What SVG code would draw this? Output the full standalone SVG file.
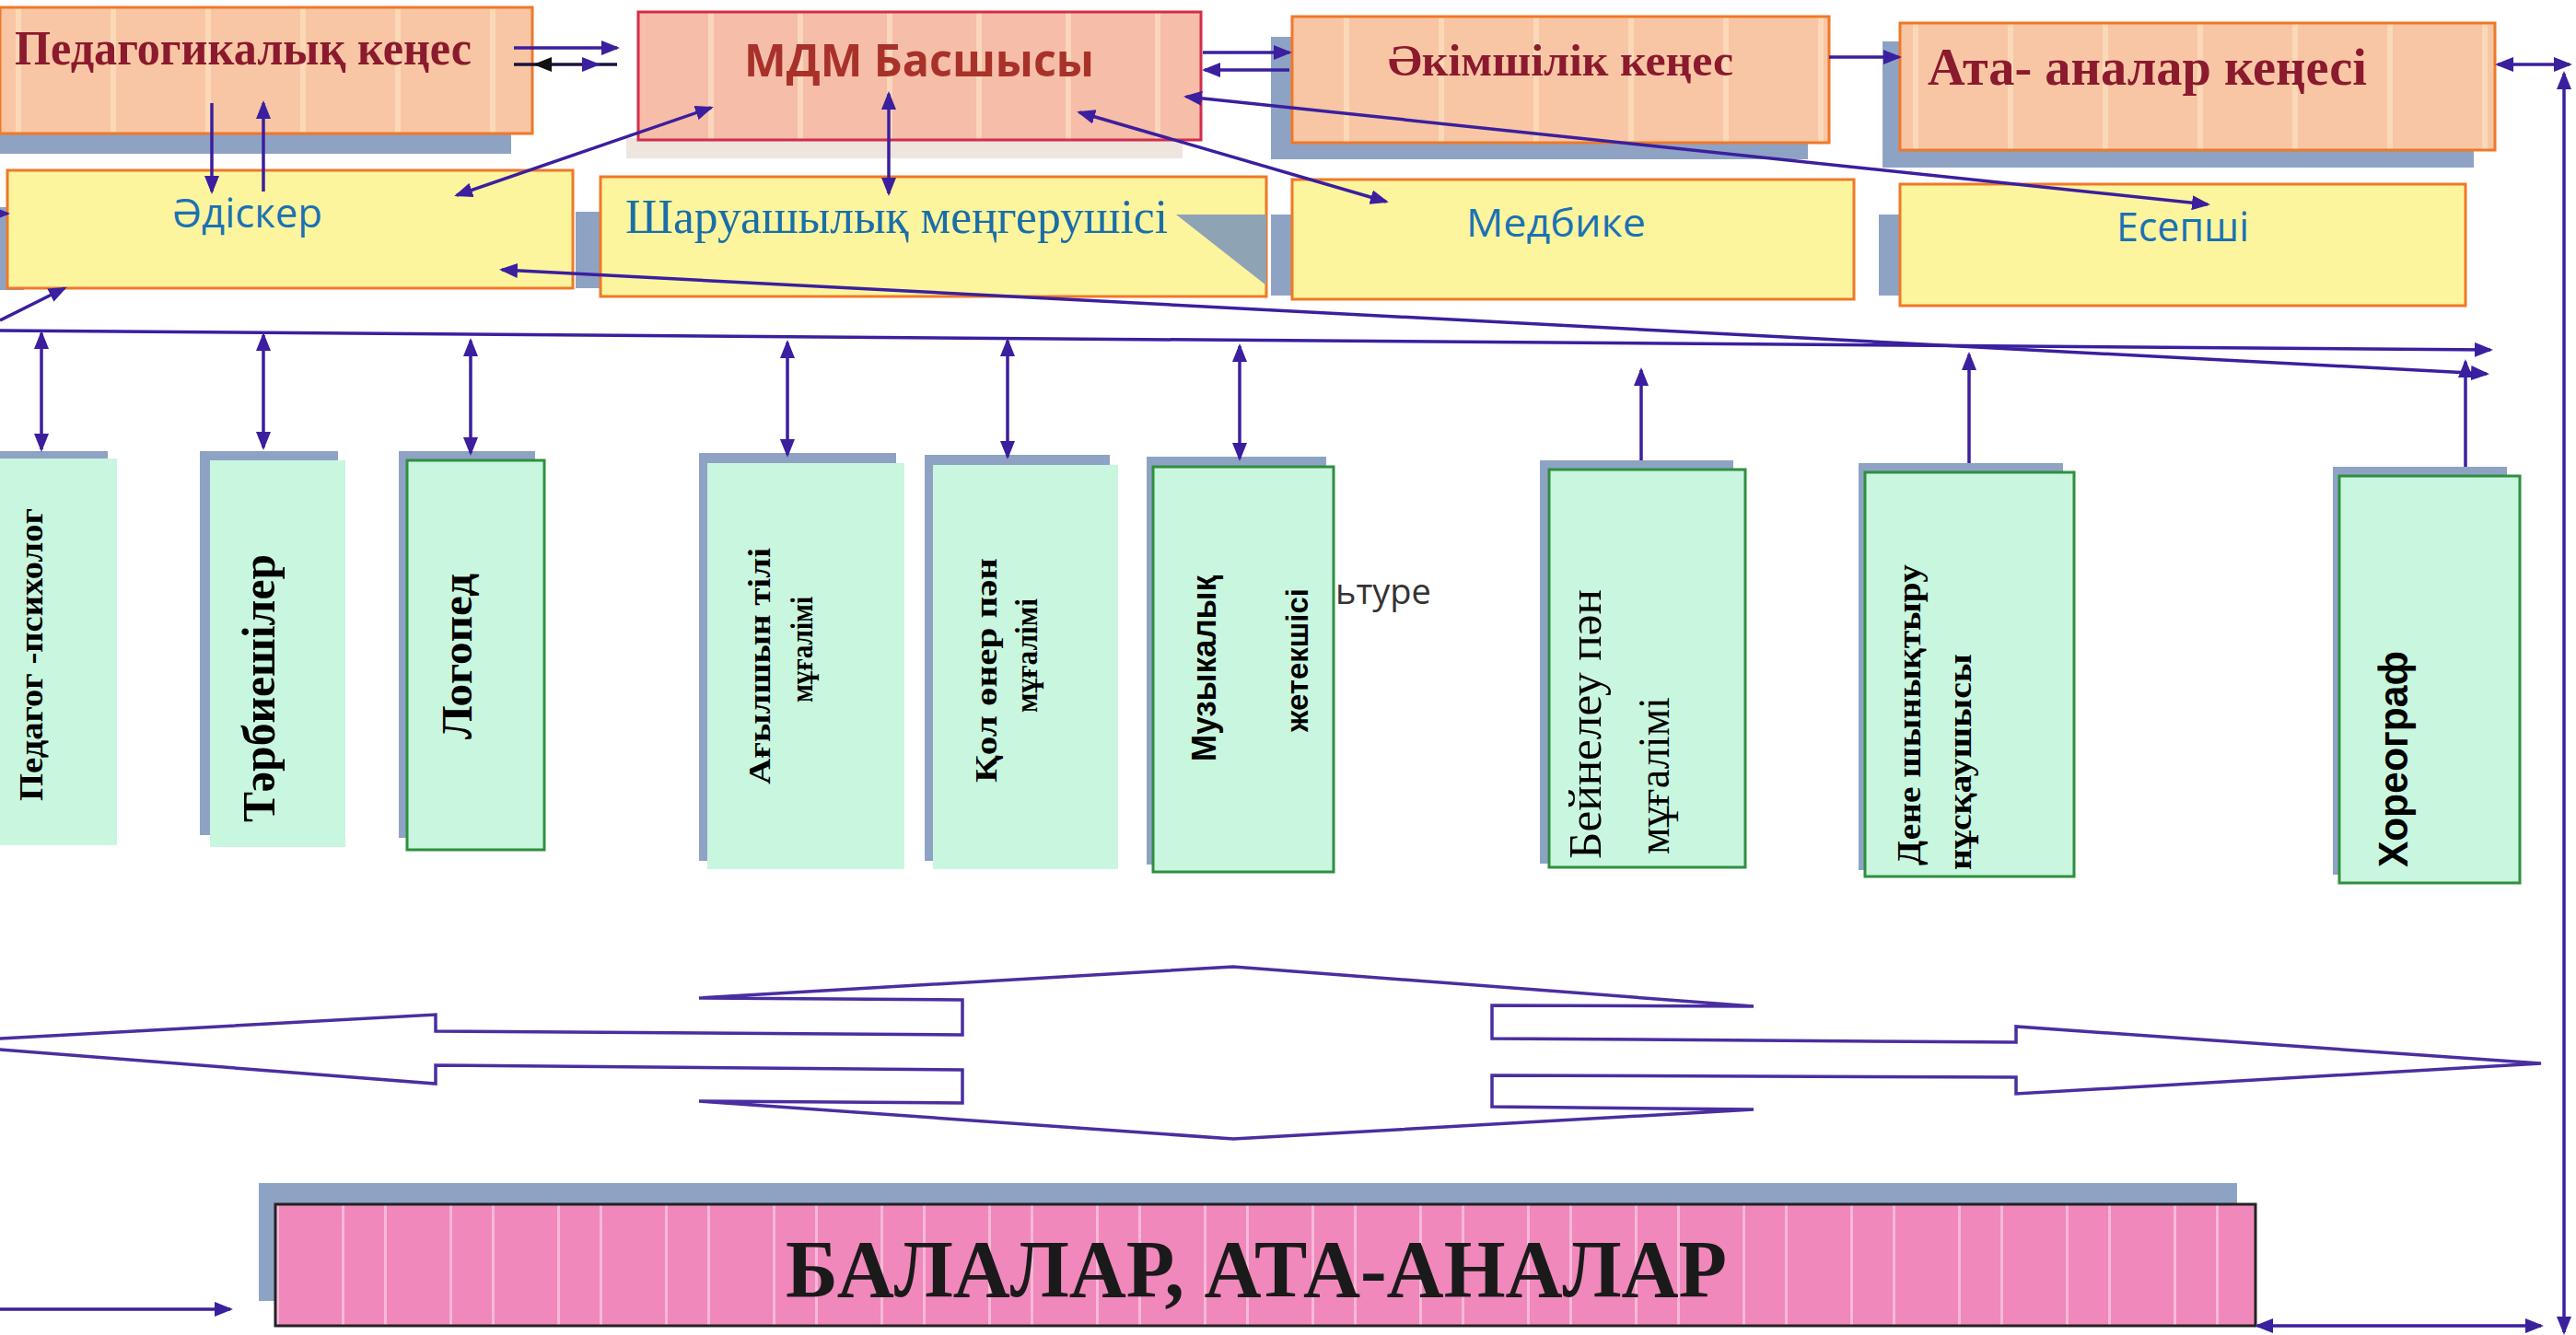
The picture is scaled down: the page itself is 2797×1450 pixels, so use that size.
<svg xmlns="http://www.w3.org/2000/svg" width="2797" height="1450" viewBox="0 0 2797 1450">
<style>
.serifB{font-family:"Liberation Serif","DejaVu Serif",serif;font-weight:bold}
.serif{font-family:"Liberation Serif","DejaVu Serif",serif}
.sans{font-family:"Open Sans","Noto Sans","Liberation Sans",sans-serif}
.arial{font-family:"Liberation Sans","DejaVu Sans",sans-serif;font-weight:bold}
.red{fill:#8b1a2e}
.blue{fill:#1a72b4}
.salmonBox{stroke:#f07828;stroke-width:3}
.yellow{fill:#fdf59e;stroke:#f07828;stroke-width:3}
.green{fill:#c9f6df}
.greenB{fill:#c9f6df;stroke:#2f8f3f;stroke-width:3}
.shadow{fill:#8ea3c4}
.conn{stroke:#3b1f9e;stroke-width:3.5;fill:none}
</style>
<defs>
<pattern id="salmon" patternUnits="userSpaceOnUse" width="103" height="200">
<rect width="103" height="200" fill="#f8c6a5"/>
<rect x="17" width="6" height="200" fill="#fbd9b8"/>
</pattern>
<pattern id="salmonMDM" patternUnits="userSpaceOnUse" width="97" height="200">
<rect width="97" height="200" fill="#f6bda8"/>
<rect x="90" width="6" height="200" fill="#f9d6bc"/>
</pattern>
<pattern id="pink" patternUnits="userSpaceOnUse" width="117" height="200">
<rect width="117" height="200" fill="#f088bb"/>
<rect x="20" width="3" height="200" fill="#f7b9d8"/>
<rect x="66" width="3" height="200" fill="#f7b9d8"/>
</pattern>
<marker id="ah" viewBox="0 0 20 16" refX="17" refY="8" markerWidth="20" markerHeight="16" markerUnits="userSpaceOnUse" orient="auto-start-reverse">
<path d="M0,0 L20,8 L0,16 z" fill="#3b1f9e"/>
</marker>
</defs>
<rect width="2797" height="1450" fill="#ffffff"/>

<!-- Top row -->
<g id="ped-kenes">
<rect x="-20" y="28" width="575" height="139" class="shadow"/>
<rect x="0" y="8" width="578" height="137" fill="url(#salmon)" class="salmonBox"/>
<text x="16" y="70" class="serifB red" font-size="52" textLength="496" lengthAdjust="spacingAndGlyphs">Педагогикалық кеңес</text>
</g>
<g id="mdm">
<rect x="680" y="150" width="604" height="22" fill="#ede5de"/>
<rect x="693" y="13" width="611" height="139" fill="url(#salmonMDM)" stroke="#d42c4c" stroke-width="3"/>
<text x="808" y="83" class="sans" font-weight="bold" font-size="49" fill="#a8322a" textLength="380" lengthAdjust="spacingAndGlyphs">МДМ Басшысы</text>
</g>
<g id="akimshilik">
<rect x="1380" y="40" width="583" height="133" class="shadow"/>
<rect x="1403" y="18" width="583" height="137" fill="url(#salmon)" class="salmonBox"/>
<text x="1507" y="82" class="serifB red" font-size="48" textLength="375" lengthAdjust="spacingAndGlyphs">Әкімшілік кеңес</text>
</g>
<g id="ata-analar-kenesi">
<rect x="2044" y="45" width="642" height="137" class="shadow"/>
<rect x="2063" y="25" width="646" height="138" fill="url(#salmon)" class="salmonBox"/>
<text x="2093" y="92" class="serifB red" font-size="58" textLength="477" lengthAdjust="spacingAndGlyphs">Ата- аналар кеңесі</text>
</g>

<!-- Second row -->
<g id="adisker">
<rect x="-14" y="225" width="40" height="90" class="shadow"/>
<rect x="8" y="185" width="614" height="128" class="yellow"/>
<text x="187" y="247" class="sans blue" font-size="44" textLength="163" lengthAdjust="spacingAndGlyphs">Әдіскер</text>
</g>
<g id="sharuashylyk">
<rect x="625" y="230" width="40" height="83" class="shadow"/>
<rect x="652" y="192" width="723" height="130" class="yellow"/>
<polygon points="1277,233 1375,233 1375,310" fill="#8ea3b4"/>
<text x="679" y="253" class="serif" fill="#1a6ea8" font-size="52" textLength="589" lengthAdjust="spacingAndGlyphs">Шаруашылық  меңгерушісі</text>
</g>
<g id="medbike">
<rect x="1380" y="233" width="40" height="88" class="shadow"/>
<rect x="1403" y="195" width="610" height="130" class="yellow"/>
<text x="1592" y="257" class="sans blue" font-size="42" textLength="195" lengthAdjust="spacingAndGlyphs">Медбике</text>
</g>
<g id="esepshi">
<rect x="2040" y="233" width="40" height="88" class="shadow"/>
<rect x="2063" y="200" width="614" height="132" class="yellow"/>
<text x="2298" y="262" class="sans blue" font-size="44" textLength="144" lengthAdjust="spacingAndGlyphs">Есепші</text>
</g>

<!-- Staff boxes -->
<g id="pedagog-psiholog">
<rect x="0" y="490" width="117" height="10" class="shadow"/>
<rect x="0" y="498" width="127" height="420" class="green"/>
<text transform="translate(46,870) rotate(-90)" class="serifB" font-size="36" textLength="318" lengthAdjust="spacingAndGlyphs">Педагог -психолог</text>
</g>
<g id="tarbieshiler">
<rect x="217" y="490" width="150" height="417" class="shadow"/>
<rect x="228" y="500" width="147" height="420" class="green"/>
<text transform="translate(298,893) rotate(-90)" class="serifB" font-size="50" textLength="291" lengthAdjust="spacingAndGlyphs">Тәрбиешілер</text>
</g>
<g id="logoped">
<rect x="433" y="490" width="148" height="420" class="shadow"/>
<rect x="442" y="500" width="149" height="423" class="greenB"/>
<text transform="translate(512,803) rotate(-90)" class="serifB" font-size="46" textLength="180" lengthAdjust="spacingAndGlyphs">Логопед</text>
</g>
<g id="agylshyn">
<rect x="759" y="492" width="214" height="443" class="shadow"/>
<rect x="768" y="503" width="214" height="441" class="green"/>
<text transform="translate(836,852) rotate(-90)" class="serifB" font-size="33" textLength="257" lengthAdjust="spacingAndGlyphs">Ағылшын тілі</text>
<text transform="translate(882,763) rotate(-90)" class="serifB" font-size="33" textLength="115" lengthAdjust="spacingAndGlyphs">мұғалімі</text>
</g>
<g id="kol-oner">
<rect x="1004" y="494" width="201" height="441" class="shadow"/>
<rect x="1013" y="505" width="201" height="439" class="green"/>
<text transform="translate(1082,850) rotate(-90)" class="serifB" font-size="33" textLength="244" lengthAdjust="spacingAndGlyphs">Қол өнер  пән</text>
<text transform="translate(1126,774) rotate(-90)" class="serifB" font-size="33" textLength="124" lengthAdjust="spacingAndGlyphs">мұғалімі</text>
</g>
<g id="muzykalyk">
<rect x="1245" y="496" width="195" height="443" class="shadow"/>
<rect x="1252" y="507" width="196" height="440" class="greenB"/>
<text transform="translate(1320,827) rotate(-90)" class="arial" font-size="36" textLength="202" lengthAdjust="spacingAndGlyphs">Музыкалық</text>
<text transform="translate(1420,795) rotate(-90)" class="arial" font-size="34" textLength="156" lengthAdjust="spacingAndGlyphs">жетекшісі</text>
</g>
<text x="1450" y="656" class="sans" font-size="38" fill="#333333">ьтуре</text>
<g id="beineleu">
<rect x="1672" y="500" width="210" height="438" class="shadow"/>
<rect x="1682" y="510" width="213" height="432" class="greenB"/>
<text transform="translate(1738,933) rotate(-90)" class="serif" font-size="50" textLength="293" lengthAdjust="spacingAndGlyphs">Бейнелеу  пән</text>
<text transform="translate(1812,928) rotate(-90)" class="serif" font-size="48" textLength="171" lengthAdjust="spacingAndGlyphs">мұғалімі</text>
</g>
<g id="dene">
<rect x="2018" y="503" width="222" height="442" class="shadow"/>
<rect x="2025" y="513" width="227" height="439" class="greenB"/>
<text transform="translate(2085,940) rotate(-90)" class="serifB" font-size="36" textLength="327" lengthAdjust="spacingAndGlyphs">Дене шынықтыру</text>
<text transform="translate(2140,945) rotate(-90)" class="serifB" font-size="36" textLength="235" lengthAdjust="spacingAndGlyphs">нұсқаушысы</text>
</g>
<g id="horeograf">
<rect x="2533" y="507" width="189" height="443" class="shadow"/>
<rect x="2540" y="517" width="196" height="442" class="greenB"/>
<text transform="translate(2614,942) rotate(-90)" class="arial" font-size="44" textLength="235" lengthAdjust="spacingAndGlyphs">Хореограф</text>
</g>

<!-- Bottom -->
<g id="balalar">
<rect x="281" y="1285" width="2148" height="128" class="shadow"/>
<rect x="299" y="1308" width="2150" height="132" fill="url(#pink)" stroke="#222222" stroke-width="3"/>
<text x="853" y="1408" class="serifB" font-size="88" fill="#1a1a1a" textLength="1022" lengthAdjust="spacingAndGlyphs">БАЛАЛАР, АТА-АНАЛАР</text>
</g>

<!-- Large four-way arrow -->
<g id="flow-arrow">
<polygon points="-90,1133 473,1102 473,1120 1045,1124 1045,1086 759,1084 1339,1050 1904,1093 1620,1092 1620,1128 2189,1132 2189,1115 2759,1155 2189,1188 2189,1170 1620,1168 1620,1202 1904,1205 1339,1237 759,1196 1045,1198 1045,1162 473,1157 473,1177" fill="#ffffff" stroke="#4a2ea0" stroke-width="3.5" stroke-linejoin="miter"/>
</g>

<!-- Connectors -->
<g id="connectors" class="conn">
<line x1="558" y1="52" x2="670" y2="52" marker-end="url(#ah)"/>
<line x1="558" y1="70" x2="670" y2="70" stroke="#1a1240"/>
<polygon points="579,70 599,62 599,78" fill="#111111" stroke="none"/>
<polygon points="652,70 632,62 632,78" fill="#3b1f9e" stroke="none"/>
<line x1="1306" y1="57" x2="1400" y2="57" marker-end="url(#ah)"/>
<line x1="1400" y1="76" x2="1308" y2="76" marker-end="url(#ah)"/>
<line x1="1986" y1="62" x2="2062" y2="62" marker-end="url(#ah)"/>
<line x1="2712" y1="70" x2="2790" y2="70" marker-start="url(#ah)" marker-end="url(#ah)"/>
<line x1="2784" y1="80" x2="2784" y2="1447" marker-start="url(#ah)" marker-end="url(#ah)"/>
<line x1="2451" y1="1440" x2="2759" y2="1440" marker-start="url(#ah)" marker-end="url(#ah)"/>
<line x1="0" y1="1422" x2="250" y2="1422" marker-end="url(#ah)"/>
<line x1="230" y1="112" x2="230" y2="208" marker-end="url(#ah)"/>
<line x1="286" y1="208" x2="286" y2="112" marker-end="url(#ah)"/>
<line x1="772" y1="117" x2="496" y2="212" marker-start="url(#ah)" marker-end="url(#ah)"/>
<line x1="965" y1="102" x2="965" y2="210" marker-start="url(#ah)" marker-end="url(#ah)"/>
<line x1="1172" y1="122" x2="1505" y2="219" marker-start="url(#ah)" marker-end="url(#ah)"/>
<line x1="1288" y1="105" x2="2397" y2="222" marker-start="url(#ah)" marker-end="url(#ah)"/>
<line x1="545" y1="293" x2="2700" y2="406" marker-start="url(#ah)" marker-end="url(#ah)"/>
<line x1="0" y1="359" x2="2704" y2="380" marker-end="url(#ah)"/>
<line x1="0" y1="348" x2="70" y2="313" marker-end="url(#ah)"/>
<line x1="-20" y1="232" x2="8" y2="232" marker-end="url(#ah)"/>
<line x1="45" y1="362" x2="45" y2="488" marker-start="url(#ah)" marker-end="url(#ah)"/>
<line x1="286" y1="364" x2="286" y2="486" marker-start="url(#ah)" marker-end="url(#ah)"/>
<line x1="511" y1="370" x2="511" y2="492" marker-start="url(#ah)" marker-end="url(#ah)"/>
<line x1="855" y1="372" x2="855" y2="494" marker-start="url(#ah)" marker-end="url(#ah)"/>
<line x1="1094" y1="370" x2="1094" y2="496" marker-start="url(#ah)" marker-end="url(#ah)"/>
<line x1="1346" y1="376" x2="1346" y2="498" marker-start="url(#ah)" marker-end="url(#ah)"/>
<line x1="1782" y1="500" x2="1782" y2="402" marker-end="url(#ah)"/>
<line x1="2138" y1="503" x2="2138" y2="385" marker-end="url(#ah)"/>
<line x1="2677" y1="507" x2="2677" y2="393" marker-end="url(#ah)"/>
</g>
</svg>
